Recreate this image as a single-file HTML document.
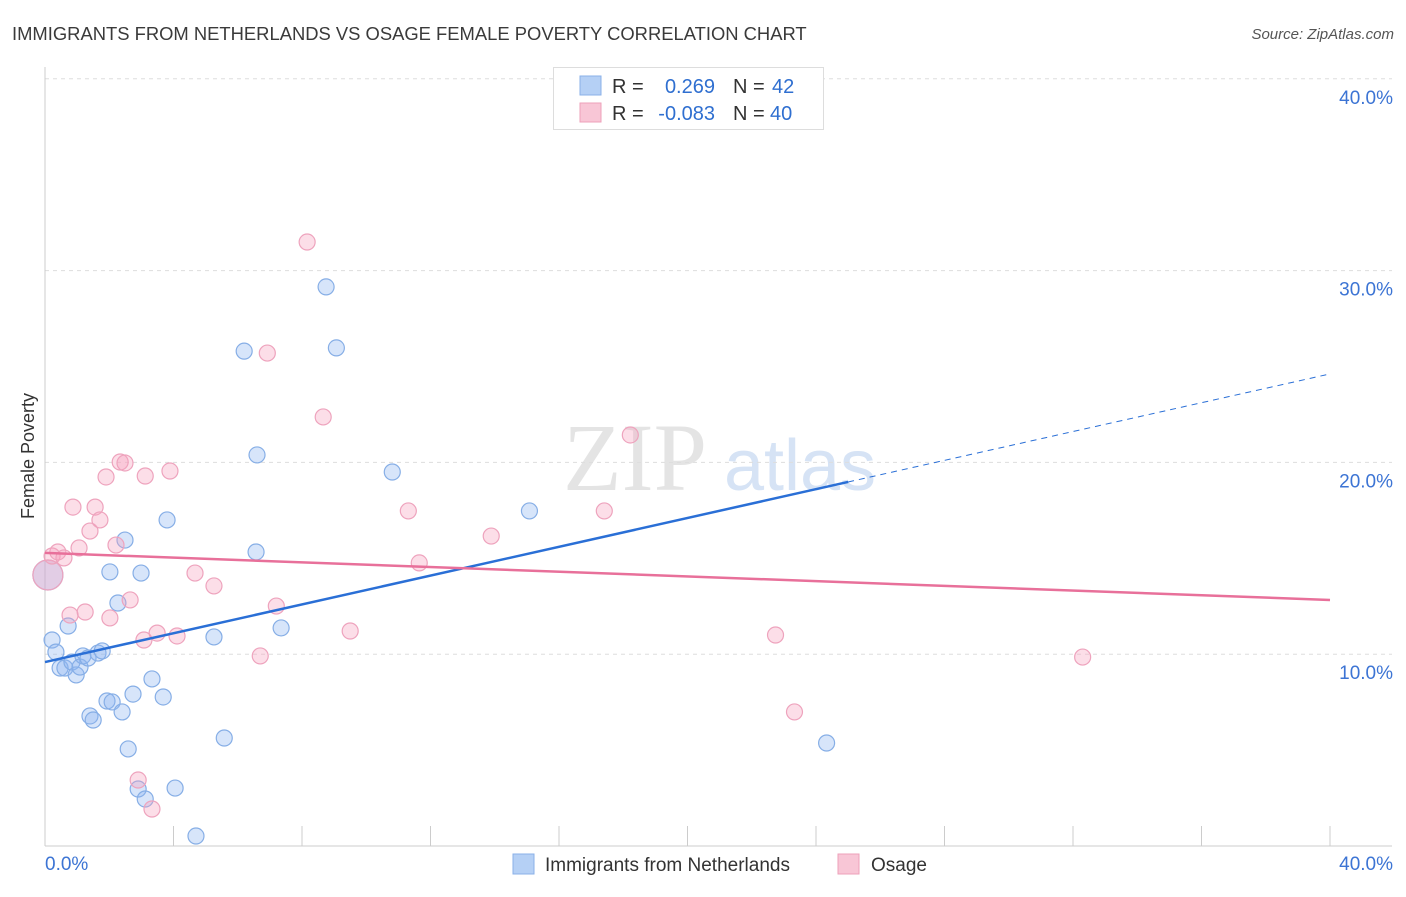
<!DOCTYPE html>
<html><head><meta charset="utf-8"><style>
body{margin:0;background:#fff;font-family:"Liberation Sans",sans-serif}
svg text{font-family:"Liberation Sans",sans-serif}
</style></head><body>
<svg id="c" width="1406" height="892" xmlns="http://www.w3.org/2000/svg">
<text x="12" y="40" font-size="18.4" fill="#3a3a3a">IMMIGRANTS FROM NETHERLANDS VS OSAGE FEMALE POVERTY CORRELATION CHART</text>
<text x="1394" y="39" font-size="15" fill="#555" text-anchor="end" font-style="italic">Source: ZipAtlas.com</text>
<text x="635" y="490" font-size="96" fill="#e4e4e4" text-anchor="middle" style="font-family:'Liberation Serif',serif">ZIP</text>
<text x="800" y="490" font-size="72" fill="#d6e3f5" text-anchor="middle">atlas</text>
<g id="grid"></g><g id="marks"></g>
<text transform="translate(34,456) rotate(-90)" font-size="18" fill="#333" text-anchor="middle">Female Poverty</text>
<g>
<rect x="553.5" y="67.5" width="270" height="62" fill="#fff" stroke="#ddd"/>
<rect x="580" y="76" width="21" height="19" fill="#b5d0f5" stroke="#8ab0e8"/>
<rect x="580" y="103" width="21" height="19" fill="#f8c6d6" stroke="#eea0ba"/>
<text x="612" y="93" font-size="20" fill="#333">R =</text><text x="715" y="93" font-size="20" fill="#2f6fd0" text-anchor="end">0.269</text>
<text x="733" y="93" font-size="20" fill="#333">N =</text><text x="772" y="93" font-size="20" fill="#2f6fd0">42</text>
<text x="612" y="120" font-size="20" fill="#333">R =</text><text x="715" y="120" font-size="20" fill="#2f6fd0" text-anchor="end">-0.083</text>
<text x="733" y="120" font-size="20" fill="#333">N =</text><text x="770" y="120" font-size="20" fill="#2f6fd0">40</text>
</g>
<g>
<rect x="513" y="854" width="21" height="20" fill="#b5d0f5" stroke="#8ab0e8"/>
<text x="545" y="871" font-size="19" fill="#333">Immigrants from Netherlands</text>
<rect x="838" y="854" width="21" height="20" fill="#f8c6d6" stroke="#eea0ba"/>
<text x="871" y="871" font-size="19" fill="#333">Osage</text>
</g>
</svg>
<script>
const xTickLabels=["0.0%","40.0%"];
const yTicks=[10,20,30,40];
const blueX=[0.22,0.34,0.47,0.62,0.72,0.84,0.97,1.09,1.18,1.34,1.40,1.50,1.65,1.78,1.93,2.09,2.02,2.27,2.40,2.49,2.59,2.74,2.90,2.99,3.12,3.33,3.68,3.80,4.05,4.70,5.26,5.58,6.20,6.57,6.60,7.35,8.75,9.07,10.81,15.08,24.33,0.09];
const blueY=[10.74,10.11,9.28,9.28,11.47,9.59,8.92,9.33,9.91,9.80,6.78,6.57,10.06,10.17,7.56,7.51,14.29,12.67,6.99,15.95,5.06,7.92,2.97,14.23,2.45,8.71,7.77,17.0,3.02,0.52,10.9,5.63,25.8,15.33,20.39,11.37,29.15,25.97,19.5,17.47,5.37,14.13];
const pinkX=[0.09,0.22,0.40,0.59,0.78,0.87,1.06,1.25,1.40,1.56,1.71,1.90,2.02,2.21,2.34,2.49,2.65,2.90,3.08,3.12,3.33,3.49,3.89,4.11,4.67,5.26,6.70,6.92,7.20,8.16,8.66,9.50,11.31,11.65,13.89,17.41,18.22,22.74,23.33,32.3];
const pinkY=[14.13,15.12,15.33,15.02,12.04,17.67,15.54,12.2,16.42,17.67,17.0,19.24,11.89,15.69,20.02,19.97,12.83,3.44,10.74,19.29,1.93,11.1,19.55,10.95,14.23,13.56,9.91,25.7,12.51,31.49,22.37,11.21,17.47,14.76,16.16,17.47,21.43,11.0,6.99,9.85];
const blueTrend=[9.59,0.3756];
const pinkTrend=[15.28,-0.0613];
const X=v=>45+v*32.125, Y=v=>846-v*19.18;
const NS="http://www.w3.org/2000/svg";
function mk(p,t,a){const e=document.createElementNS(NS,t);for(const k in a)e.setAttribute(k,a[k]);p.appendChild(e);return e;}
const g=document.getElementById('grid'),m=document.getElementById('marks');
yTicks.forEach(t=>{
 const l=mk(g,'line',{x1:45,x2:1392,y1:Y(t),y2:Y(t),stroke:'#ddd','stroke-dasharray':'4,4'});
 
 
 const tx=mk(g,'text',{x:1393,y:Y(t)+25,'font-size':19,fill:'#3c74d4','text-anchor':'end'});tx.textContent=t.toFixed(1)+'%';
 
 
});
const ax=mk(g,'line',{x1:45,x2:1392,y1:846,y2:846,stroke:'#ccc'});


const ay=mk(g,'line',{x1:45,x2:45,y1:67,y2:846,stroke:'#ccc'});


for(let i=0;i<=10;i++){const t=mk(g,'line',{x1:X(i*4),x2:X(i*4),y1:826,y2:846,stroke:'#ccc'});
 
 }
[[0,xTickLabels[0],'start',45],[40,xTickLabels[1],'end',1393]].forEach(a=>{const t=mk(g,'text',{x:a[3],y:870,'font-size':19,fill:'#3c74d4','text-anchor':a[2]});t.textContent=a[1];
 
 });
function pts(xs,ys,fill,stroke,name){xs.forEach((x,i)=>{const big=(x<0.15);const c=mk(m,'circle',{cx:X(x),cy:Y(ys[i]),r:big?15:8,fill:fill,stroke:stroke,'stroke-width':1.2});
 
 });}
pts(blueX,blueY,'rgba(140,180,240,0.35)','#86aee6','point-netherlands');
pts(pinkX,pinkY,'rgba(245,160,190,0.35)','#eea3bd','point-osage');
const bs=mk(m,'line',{x1:X(0),y1:Y(blueTrend[0]),x2:X(25),y2:Y(blueTrend[0]+25*blueTrend[1]),stroke:'#2a6fd6','stroke-width':2.5});


const bd=mk(m,'line',{x1:X(25),y1:Y(blueTrend[0]+25*blueTrend[1]),x2:X(40),y2:Y(blueTrend[0]+40*blueTrend[1]),stroke:'#2a6fd6','stroke-width':1,'stroke-dasharray':'6,5'});


const pl=mk(m,'line',{x1:X(0),y1:Y(pinkTrend[0]),x2:X(40),y2:Y(pinkTrend[0]+40*pinkTrend[1]),stroke:'#e8709a','stroke-width':2.5});


</script>
</body></html>
